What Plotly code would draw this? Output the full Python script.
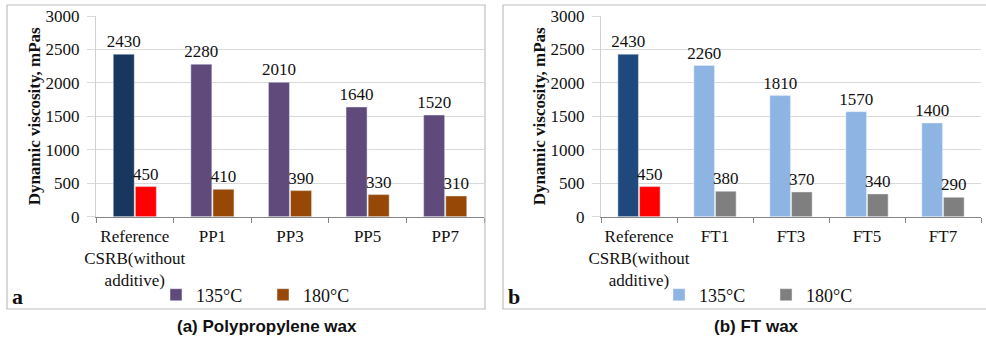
import plotly.graph_objects as go

categories_pp = ["Reference<br>CSRB(without<br>additive)", "PP1", "PP3", "PP5", "PP7"]
categories_ft = ["Reference<br>CSRB(without<br>additive)", "FT1", "FT3", "FT5", "FT7"]
pp_135 = [2430, 2280, 2010, 1640, 1520]
pp_180 = [450, 410, 390, 330, 310]
ft_135 = [2430, 2260, 1810, 1570, 1400]
ft_180 = [450, 380, 370, 340, 290]
y_ticks = [0, 500, 1000, 1500, 2000, 2500, 3000]

W, H = 986, 342
SERIF = "Liberation Serif"

def px(x):
    return x / W

def py(y):
    return 1 - y / H

fig = go.Figure()

def add_panel(cats, v135, v180, ref135_color, c135, c180, xa, ya, legend):
    common = dict(textposition="outside", cliponaxis=False, constraintext="none",
                  textfont=dict(family=SERIF, size=17, color="#111"),
                  xaxis=xa, yaxis=ya)
    fig.add_trace(go.Bar(x=cats[:1], y=v135[:1], text=v135[:1], marker_color=ref135_color,
                         offsetgroup="t135", showlegend=False, legend=legend, **common))
    fig.add_trace(go.Bar(x=cats[:1], y=v180[:1], text=v180[:1], marker_color="#FF0000",
                         offsetgroup="t180", showlegend=False, legend=legend, **common))
    fig.add_trace(go.Bar(x=cats[1:], y=v135[1:], text=v135[1:], marker_color=c135,
                         name="135°C", offsetgroup="t135", legend=legend, **common))
    fig.add_trace(go.Bar(x=cats[1:], y=v180[1:], text=v180[1:], marker_color=c180,
                         name="180°C", offsetgroup="t180", legend=legend, **common))

add_panel(categories_pp, pp_135, pp_180, "#17375E", "#604A7B", "#974806", "x", "y", "legend")
add_panel(categories_ft, ft_135, ft_180, "#1F497D", "#8DB4E2", "#7F7F7F", "x2", "y2", "legend2")

xaxis_common = dict(type="category", showgrid=False, showline=True, linecolor="#868686",
                    ticks="outside", tickson="boundaries", ticklen=5, tickcolor="#868686",
                    tickangle=0, automargin=False, ticklabelstandoff=4,
                    tickfont=dict(family=SERIF, size=17, color="#111"))
yaxis_common = dict(range=[0, 3000], tickvals=y_ticks, showgrid=True, gridcolor="#D9D9D9",
                    showline=True, linecolor="#D0D0D0", ticks="outside", ticklen=8,
                    tickcolor="#D9D9D9", automargin=False, ticklabelstandoff=4,
                    tickfont=dict(family=SERIF, size=17, color="#111"),
                    zeroline=False,
                    title=dict(text="<b>Dynamic viscosity, mPas</b>",
                               font=dict(family=SERIF, size=17, color="#111"), standoff=0))

y0 = py(216.7)
y1 = py(16)

legend_font = dict(family=SERIF, size=18, color="#111")

fig.update_layout(
    width=W, height=H, autosize=False,
    margin=dict(l=0, r=0, t=0, b=0),
    paper_bgcolor="white", plot_bgcolor="white",
    barmode="group", bargap=0.43, bargroupgap=0.05,
    xaxis=dict(domain=[px(96), px(484)], anchor="y", **xaxis_common),
    yaxis=dict(domain=[y0, y1], anchor="x", **yaxis_common),
    xaxis2=dict(domain=[px(601), px(981)], anchor="y2", **xaxis_common),
    yaxis2=dict(domain=[y0, y1], anchor="x2", **yaxis_common),
    legend=dict(orientation="h", x=px(156), y=py(295), xanchor="left", yanchor="middle",
                font=legend_font, bgcolor="rgba(0,0,0,0)",
                entrywidth=62, itemwidth=30, traceorder="normal"),
    legend2=dict(orientation="h", x=px(659), y=py(295), xanchor="left", yanchor="middle",
                 font=legend_font, bgcolor="rgba(0,0,0,0)",
                 entrywidth=62, itemwidth=30, traceorder="normal"),
    shapes=[
        dict(type="rect", xref="paper", yref="paper", x0=px(7), x1=px(485), y0=py(309), y1=py(5),
             line=dict(color="#BFBFBF", width=1.2)),
        dict(type="rect", xref="paper", yref="paper", x0=px(503), x1=px(992), y0=py(309), y1=py(5),
             line=dict(color="#BFBFBF", width=1.2)),
    ],
    annotations=[
        dict(text="<b>a</b>", x=px(10), y=py(296), xref="paper", yref="paper", showarrow=False,
             xanchor="left", yanchor="middle", font=dict(family=SERIF, size=22, color="#111")),
        dict(text="<b>b</b>", x=px(506), y=py(296), xref="paper", yref="paper", showarrow=False,
             xanchor="left", yanchor="middle", font=dict(family=SERIF, size=22, color="#111")),
        dict(text="<b>(a) Polypropylene wax</b>", x=px(267), y=py(326), xref="paper", yref="paper",
             showarrow=False, xanchor="center", yanchor="middle",
             font=dict(family="Liberation Sans", size=17, color="#111")),
        dict(text="<b>(b) FT wax</b>", x=px(756), y=py(326), xref="paper", yref="paper",
             showarrow=False, xanchor="center", yanchor="middle",
             font=dict(family="Liberation Sans", size=17, color="#111")),
    ],
)

fig.write_html("out.html", config={"displayModeBar": False},
               post_script="document.body.style.margin='0';document.body.style.overflow='hidden';")
